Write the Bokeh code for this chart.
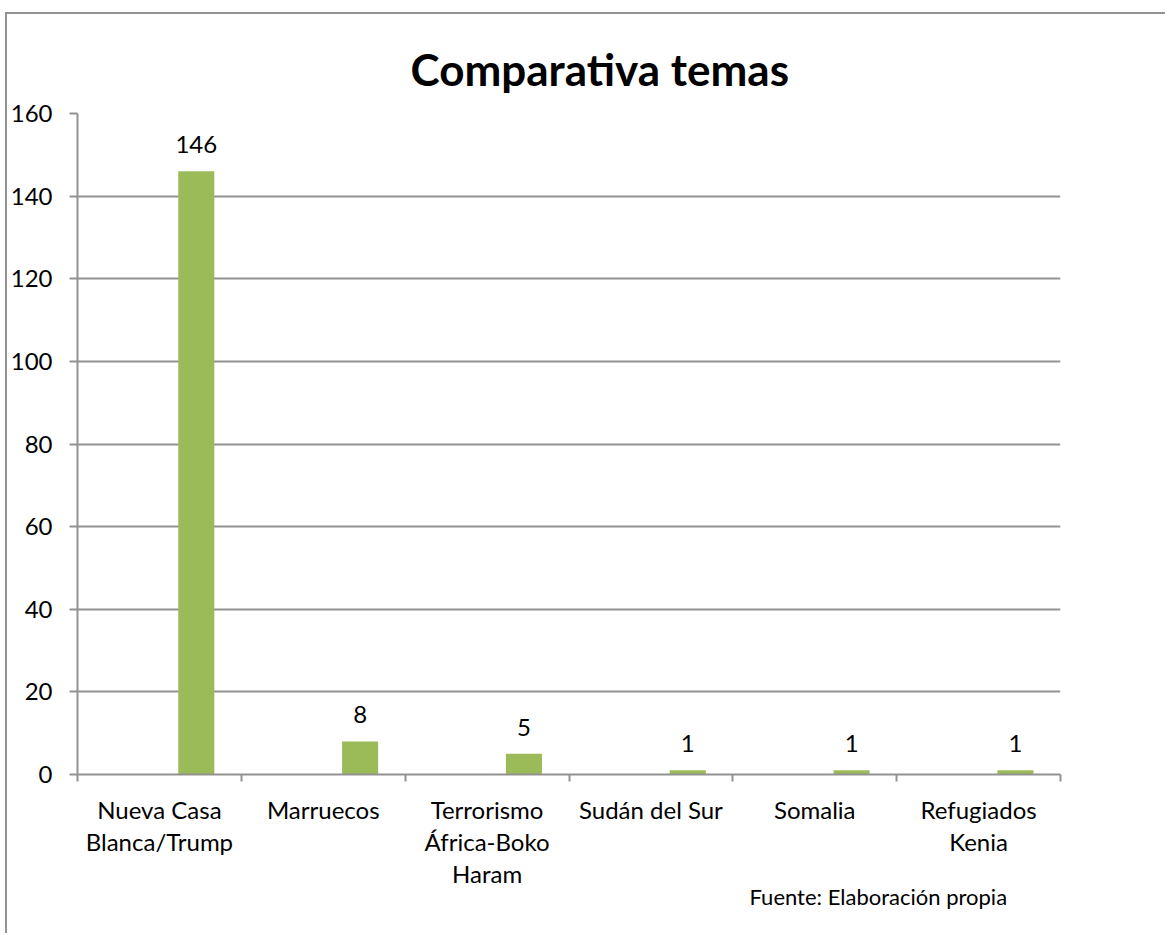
from bokeh.plotting import figure
from bokeh.models import (ColumnDataSource, Range1d, LinearAxis,
                          FixedTicker, LabelSet, Title)
from bokeh.core.properties import value
from bokeh.transform import dodge
from bokeh.embed import file_html
from bokeh.resources import INLINE

# ---- data ----
categories = ["Nueva Casa\nBlanca/Trump", "Marruecos", "Terrorismo\nÁfrica-Boko\nHaram",
              "Sudán del Sur", "Somalia", "Refugiados\nKenia"]
values = [146, 8, 5, 1, 1, 1]
value_labels = ["146", "8", "5", "1", "1", "1"]
y_ticks = [0, 20, 40, 60, 80, 100, 120, 140, 160]
title_text = "Comparativa temas"
source_text = "Fuente: Elaboración propia"

# ---- style ----
FONT = "Lato"
GRAY = "#929292"
GREEN = "#9bbb59"

n = len(categories)
idx = list(range(n))  # slot index of each category on the category axis
src = ColumnDataSource(dict(idx=idx, cat=categories, val=values, lab=value_labels))

p = figure(width=1160, height=921,
           x_range=Range1d(0, n),
           y_range=Range1d(0, 160),
           output_backend="svg", toolbar_location=None, x_axis_location=None,
           min_border_left=68, min_border_right=107, min_border_top=99, min_border_bottom=161)
p.styles = {"border-top": f"2px solid {GRAY}", "border-left": f"2px solid {GRAY}",
            "margin-top": "12px", "margin-left": "5px"}
p.outline_line_color = None
p.background_fill_color = "white"
p.border_fill_color = "white"

# title
p.title.text = title_text
p.title.align = "left"
p.title.offset = 333
p.title.text_font = FONT
p.title.text_font_size = "44px"
p.title.text_font_style = "bold"
p.title.text_color = "black"
p.title.standoff = 38

# y axis
yax = p.yaxis[0]
yax.ticker = FixedTicker(ticks=y_ticks)
yax.axis_line_color = GRAY
yax.axis_line_width = 2
yax.major_tick_line_color = GRAY
yax.major_tick_line_width = 2
yax.major_tick_out = 8
yax.major_tick_in = 0
yax.minor_tick_line_color = None
yax.major_label_text_font = FONT
yax.major_label_text_font_size = "24px"
yax.major_label_text_color = "black"
yax.major_label_standoff = 17

p.ygrid.ticker = FixedTicker(ticks=y_ticks)
p.ygrid.grid_line_color = GRAY
p.ygrid.grid_line_width = 2
p.xgrid.grid_line_color = None

# category axis: names at slot centres, tick marks at slot boundaries
centers = [i + 0.5 for i in idx]
bounds = list(range(n + 1))
cat_axis = LinearAxis(ticker=FixedTicker(ticks=centers, minor_ticks=bounds))
cat_axis.major_label_overrides = {c: name for c, name in zip(centers, categories)}
cat_axis.axis_line_color = GRAY
cat_axis.axis_line_width = 2
cat_axis.major_tick_line_color = None
cat_axis.major_tick_out = 0
cat_axis.major_tick_in = 0
cat_axis.minor_tick_line_color = GRAY
cat_axis.minor_tick_line_width = 2
cat_axis.minor_tick_out = 7
cat_axis.minor_tick_in = 0
cat_axis.major_label_text_font = FONT
cat_axis.major_label_text_font_size = "24px"
cat_axis.major_label_text_color = "black"
cat_axis.major_label_text_line_height = 1.11
cat_axis.major_label_standoff = 13
p.add_layout(cat_axis, "below")

# source note under the category labels
note = Title(text=source_text, align="left", offset=672, standoff=-16, vertical_align="top",
             text_font=FONT, text_font_size="22px", text_font_style="normal",
             text_color="black")
p.add_layout(note, "below")

# bars
p.vbar(x=dodge("idx", 0.725), top="val", width=0.22, bottom=0,
       source=src, fill_color=GREEN, line_color=None)

labels = LabelSet(x=dodge("idx", 0.725), y="val", text="lab", source=src,
                  text_align="center", text_baseline="alphabetic", y_offset=18,
                  text_font=value(FONT), text_font_size=value("24px"), text_color="black")
p.add_layout(labels)

open("out.html", "w").write(file_html(p, INLINE))
